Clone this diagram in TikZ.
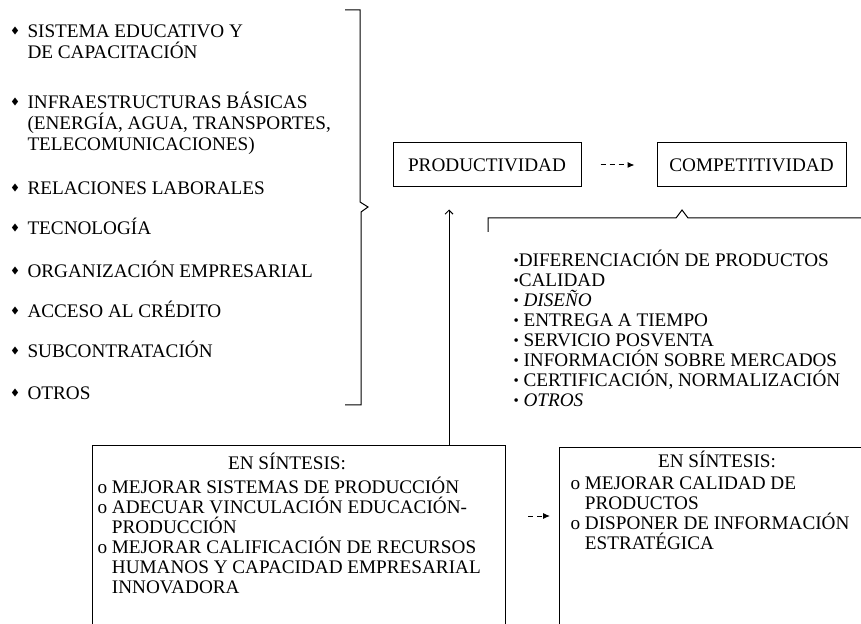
\documentclass[tikz,border=0pt]{standalone}
\usepackage{fontspec}
\setmainfont{Liberation Serif}
\usepackage{amssymb}
\usetikzlibrary{arrows.meta,positioning}

\newcommand*{\fbul}{{\fontsize{4.5}{5}\selectfont$\blacklozenge$}}
\newcommand*{\pbul}{\raisebox{.15ex}{\fontsize{7.5}{7.5}\selectfont\textbullet}}

\begin{document}
\begin{tikzpicture}[x=0.5pt,y=-0.5pt,line width=0.5pt,
    every node/.style={font=\fontsize{9.6}{10.5}\selectfont,inner sep=0pt},
    factor/.style={anchor=base west,align=left},
    itemlist/.style={anchor=base west,align=left,font=\fontsize{9.6}{10}\selectfont},
    goal/.style={draw,minimum height=22pt,inner xsep=5pt},
    synbox/.style={draw,anchor=north west,minimum height=140pt},
    dasharrow/.style={dash pattern=on 2.5pt off 2pt,-{Latex[length=3.5pt,width=3pt]}},
    uparrow/.style={-{Straight Barb[length=2pt,width=4pt]}}]
    \clip (0,0) rectangle (861,624);

    % factores de productividad (base = ultima linea)
    \node[factor] (f1) at (27,58.4) {SISTEMA EDUCATIVO Y\\DE CAPACITACIÓN};
    \node[factor] (f2) at (27,150.4) {INFRAESTRUCTURAS BÁSICAS\\(ENERGÍA, AGUA, TRANSPORTES,\\TELECOMUNICACIONES)};
    \node[factor] (f3) at (27,194.4) {RELACIONES LABORALES};
    \node[factor] (f4) at (27,234.4) {TECNOLOGÍA};
    \node[factor] (f5) at (27,277.4) {ORGANIZACIÓN EMPRESARIAL};
    \node[factor] (f6) at (27,317.4) {ACCESO AL CRÉDITO};
    \node[factor] (f7) at (27,357.4) {SUBCONTRATACIÓN};
    \node[factor] (f8) at (27,399.4) {OTROS};
    \foreach \y [count=\i] in {31,102,188,228,271,311,351,393}
        \node (fb\i) at (15,\y) {\fbul};
    \draw (345,10) -- (360,10) -- (360,202) -- (368,207) -- (361,212)
        -- (361,405) -- (345,405);

    % productividad y competitividad
    \node[goal,minimum width=94pt] (prod) at (487,165) {PRODUCTIVIDAD};
    \node[goal,minimum width=94.5pt] (comp) at (751.5,165) {COMPETITIVIDAD};
    \draw[dasharrow,shorten <=9.5pt,shorten >=11pt] (prod) -- (comp);

    % factores de competitividad
    \draw (488,232) -- (488,218) -- (676,218) -- (682,210) -- (688,218) -- (870,218);
    \node[itemlist] (cl) at (513,406.4) {\pbul DIFERENCIACIÓN DE PRODUCTOS\\
        \pbul CALIDAD\\
        \pbul\ \textit{DISEÑO}\\
        \pbul\ ENTREGA A TIEMPO\\
        \pbul\ SERVICIO POSVENTA\\
        \pbul\ INFORMACIÓN SOBRE MERCADOS\\
        \pbul\ CERTIFICACIÓN, NORMALIZACIÓN\\
        \pbul\ \textit{OTROS}};

    % sintesis
    \node[synbox,minimum width=206.5pt] (synprod) at (92,445) {};
    \node[anchor=base] (synprodtit) at (287,469.4) {EN SÍNTESIS:};
    \node[itemlist] (synprodlist) at (97,593.4) {o MEJORAR SISTEMAS DE PRODUCCIÓN\\
        o ADECUAR VINCULACIÓN EDUCACIÓN-\\
        \phantom{o }PRODUCCIÓN\\
        o MEJORAR CALIFICACIÓN DE RECURSOS\\
        \phantom{o }HUMANOS Y CAPACIDAD EMPRESARIAL\\
        \phantom{o }INNOVADORA};
    \node[synbox,minimum width=160pt] (syncomp) at (559,447) {};
    \node[anchor=base] (syncomptit) at (717,467.4) {EN SÍNTESIS:};
    \node[itemlist] (syncomplist) at (570,549.4) {o MEJORAR CALIDAD DE\\
        \phantom{o }PRODUCTOS\\
        o DISPONER DE INFORMACIÓN\\
        \phantom{o }ESTRATÉGICA};

    \coordinate (synmid) at (0,516);
    \draw[dasharrow,shorten <=11pt,shorten >=4.5pt] (synprod.east |- synmid) -- (syncomp.west |- synmid);
    \draw[uparrow,shorten >=11pt] ([xshift=-19pt]prod.south |- synprod.north) -- ([xshift=-19pt]prod.south);
\end{tikzpicture}
\end{document}
